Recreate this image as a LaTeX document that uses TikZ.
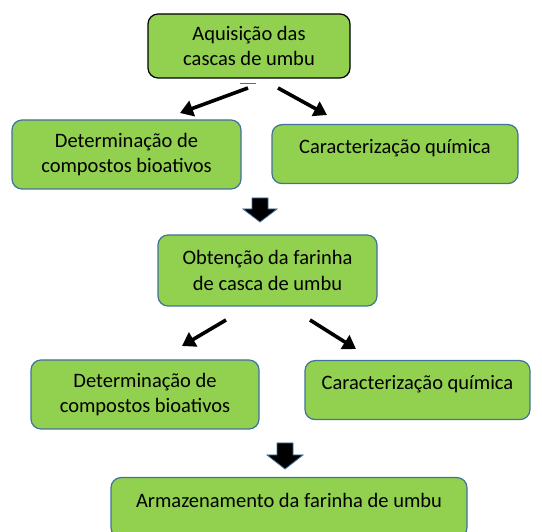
\documentclass[tikz,border=0pt]{standalone}
\usepackage{fontspec}
\setmainfont{Carlito}
\usetikzlibrary{arrows.meta}
\definecolor{boxgreen}{HTML}{92D050}
\definecolor{boxblue}{HTML}{41719C}
\tikzset{
  stepbox/.style={draw=boxblue, line width=1.2pt, fill=boxgreen, rounded corners=10pt, align=center, font=\fontsize{20.5}{25.5}\selectfont},
  flowarrow/.style={line width=3.6pt, -{Triangle[length=13pt,width=16pt]}},
  blockarrow/.style={fill=black, draw=boxblue, line width=0.8pt, line join=miter}
}
\begin{document}
\begin{tikzpicture}[x=1pt,y=-1pt]
\useasboundingbox (0,0) rectangle (542,532);
\node[stepbox, draw=black, minimum width=202pt, minimum height=64pt] (a) at (249,46) {Aquisição das\\cascas de umbu};
\draw[boxblue, line width=1pt] (240,84) -- (256,84);
\node[stepbox, minimum width=229pt, minimum height=69pt] (b) at (126.5,154.5) {Determinação de\\compostos bioativos};
\node[stepbox, minimum width=246pt, minimum height=59pt, anchor=north, text height=25.7pt, text depth=26.6pt] (c) at (395,124) {Caracterização química};
\node[stepbox, minimum width=219pt, minimum height=71pt] (d) at (267.5,270.5) {Obtenção da farinha\\de casca de umbu};
\node[stepbox, minimum width=228pt, minimum height=69pt] (e) at (145,394.5) {Determinação de\\compostos bioativos};
\node[stepbox, minimum width=225pt, minimum height=59pt, anchor=north, text height=25.7pt, text depth=26.6pt] (f) at (417.5,360) {Caracterização química};
\node[stepbox, minimum width=356pt, minimum height=60pt, anchor=north, text height=26.7pt, text depth=26pt] (g) at (289,477) {Armazenamento da farinha de umbu};
\coordinate (a1) at (248,88); \coordinate (a2) at (180,113);
\coordinate (a3) at (278,88); \coordinate (a4) at (327,115);
\draw[flowarrow] (a1) -- (a2);
\draw[flowarrow] (a3) -- (a4);
\coordinate (d1) at (226,320); \coordinate (d2) at (182,346);
\coordinate (d3) at (310,320); \coordinate (d4) at (356,349);
\draw[flowarrow] (d1) -- (d2);
\draw[flowarrow] (d3) -- (d4);
\draw[blockarrow] (252,198) -- (268,198) -- (268,209) -- (277,209) -- (260,222) -- (243,209) -- (252,209) -- cycle;
\draw[blockarrow] (277,443) -- (293,443) -- (293,455) -- (303,455) -- (285,469) -- (267,455) -- (277,455) -- cycle;
\end{tikzpicture}
\end{document}
